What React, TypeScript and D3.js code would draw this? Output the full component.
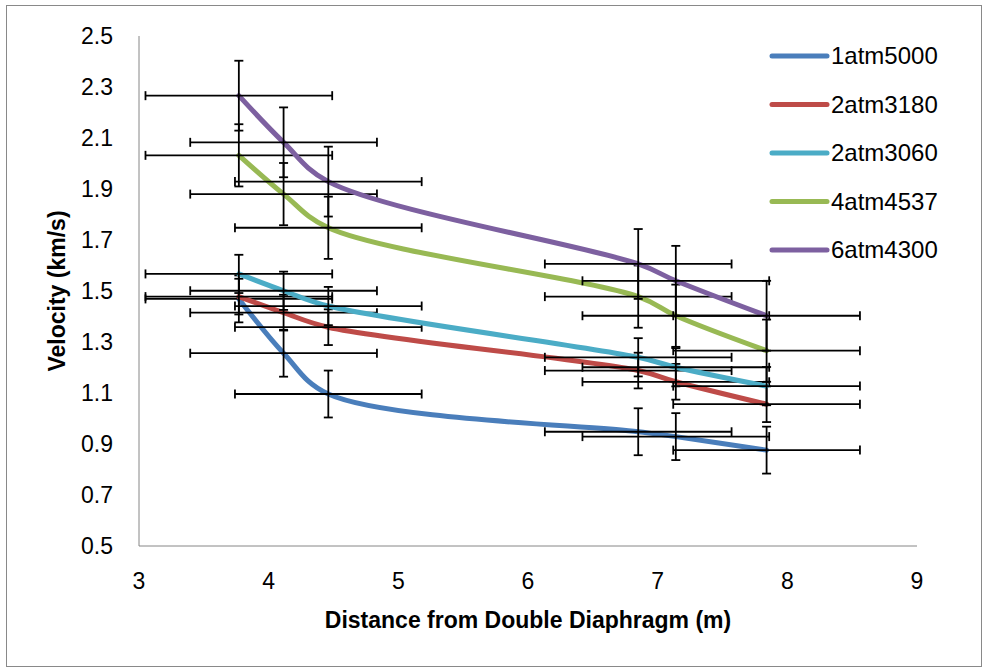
import React from 'react'
import * as d3 from 'd3'

// distance from double diaphragm (m), shared by every run
const distances = [3.77, 4.115, 4.46, 6.85, 7.14, 7.84]

// velocity (km/s) per run
const v1atm5000 = [1.469, 1.256, 1.096, 0.948, 0.929, 0.876]
const v2atm3180 = [1.478, 1.415, 1.358, 1.188, 1.144, 1.056]
const v2atm3060 = [1.567, 1.501, 1.441, 1.24, 1.201, 1.127]
const v4atm4537 = [2.032, 1.88, 1.748, 1.478, 1.403, 1.266]
const v6atm4300 = [2.266, 2.083, 1.929, 1.606, 1.54, 1.403]

const seriesNames = ['1atm5000', '2atm3180', '2atm3060', '4atm4537', '6atm4300']
const seriesValues = [v1atm5000, v2atm3180, v2atm3060, v4atm4537, v6atm4300]
// fixed error bar sizes
const yErrors = [0.092, 0.07, 0.075, 0.122, 0.137]
const xError = 0.72

const xTicks = [3, 4, 5, 6, 7, 8, 9]
const yTicks = [0.5, 0.7, 0.9, 1.1, 1.3, 1.5, 1.7, 1.9, 2.1, 2.3, 2.5]

const colors = ['#4A7EBB', '#BE4B48', '#4BACC6', '#98B954', '#7D60A0']

const W = 987
const H = 669
const FONT = '"Liberation Sans", Arial, sans-serif'

export default function App() {
  const x = d3.scaleLinear().domain([3, 9]).range([139, 917])
  const y = d3.scaleLinear().domain([0.5, 2.5]).range([546, 36])

  // excel-like smoothed line, centripetal so the uneven spacing doesn't loop
  const line = d3
    .line<[number, number]>()
    .x(d => x(d[0]))
    .y(d => y(d[1]))
    .curve(d3.curveCatmullRom.alpha(0.5))

  const cap = 4.5

  return (
    <div style={{ position: 'fixed', left: 0, top: 0 }}>
      <svg width={W} height={H} style={{ display: 'block', background: '#fff' }}>
        {/* chart frame */}
        <rect x={6.5} y={5.5} width={975} height={661} fill="#fff" stroke="#898989" strokeWidth={1} />

        {/* axes */}
        <line x1={x(3)} x2={x(3)} y1={y(2.5)} y2={y(0.5)} stroke="#868686" strokeWidth={1} />
        <line x1={x(3)} x2={x(9)} y1={y(0.5)} y2={y(0.5)} stroke="#868686" strokeWidth={1} />

        {yTicks.map(t => (
          <text key={t} x={113} y={y(t)} dy="0.35em" textAnchor="end" fontSize={23} fontFamily={FONT} fill="#000">
            {t.toFixed(1)}
          </text>
        ))}
        {xTicks.map(t => (
          <text key={t} x={x(t)} y={589} textAnchor="middle" fontSize={23} fontFamily={FONT} fill="#000">
            {t}
          </text>
        ))}

        <text x={x(6)} y={628} textAnchor="middle" fontSize={23} fontWeight="bold" fontFamily={FONT}>
          Distance from Double Diaphragm (m)
        </text>
        <text
          transform={`translate(65,${y(1.5)}) rotate(-90)`}
          textAnchor="middle"
          fontSize={23}
          fontWeight="bold"
          fontFamily={FONT}
        >
          Velocity (km/s)
        </text>

        {seriesValues.map((vals, si) => {
          const pts = distances.map((d, i) => [d, vals[i]] as [number, number])
          const e = yErrors[si]
          return (
            <g key={seriesNames[si]}>
              <path d={line(pts) || ''} fill="none" stroke={colors[si]} strokeWidth={5} strokeLinecap="round" strokeLinejoin="round" />
              <g stroke="#000" strokeWidth={1.8}>
                {pts.map(([d, v], i) => (
                  <g key={i}>
                    <line x1={x(d)} x2={x(d)} y1={y(v + e)} y2={y(v - e)} />
                    <line x1={x(d) - cap} x2={x(d) + cap} y1={y(v + e)} y2={y(v + e)} />
                    <line x1={x(d) - cap} x2={x(d) + cap} y1={y(v - e)} y2={y(v - e)} />
                    <line x1={x(d - xError)} x2={x(d + xError)} y1={y(v)} y2={y(v)} />
                    <line x1={x(d - xError)} x2={x(d - xError)} y1={y(v) - cap} y2={y(v) + cap} />
                    <line x1={x(d + xError)} x2={x(d + xError)} y1={y(v) - cap} y2={y(v) + cap} />
                  </g>
                ))}
              </g>
            </g>
          )
        })}

        {/* legend */}
        {seriesNames.map((name, i) => (
          <g key={name} transform={`translate(0,${56 + i * 48.5})`}>
            <line x1={772} x2={827} y1={0} y2={0} stroke={colors[i]} strokeWidth={5} strokeLinecap="round" />
            <text x={831} y={0} dy="0.35em" fontSize={24} fontFamily={FONT} fill="#000">
              {name}
            </text>
          </g>
        ))}
      </svg>
    </div>
  )
}
